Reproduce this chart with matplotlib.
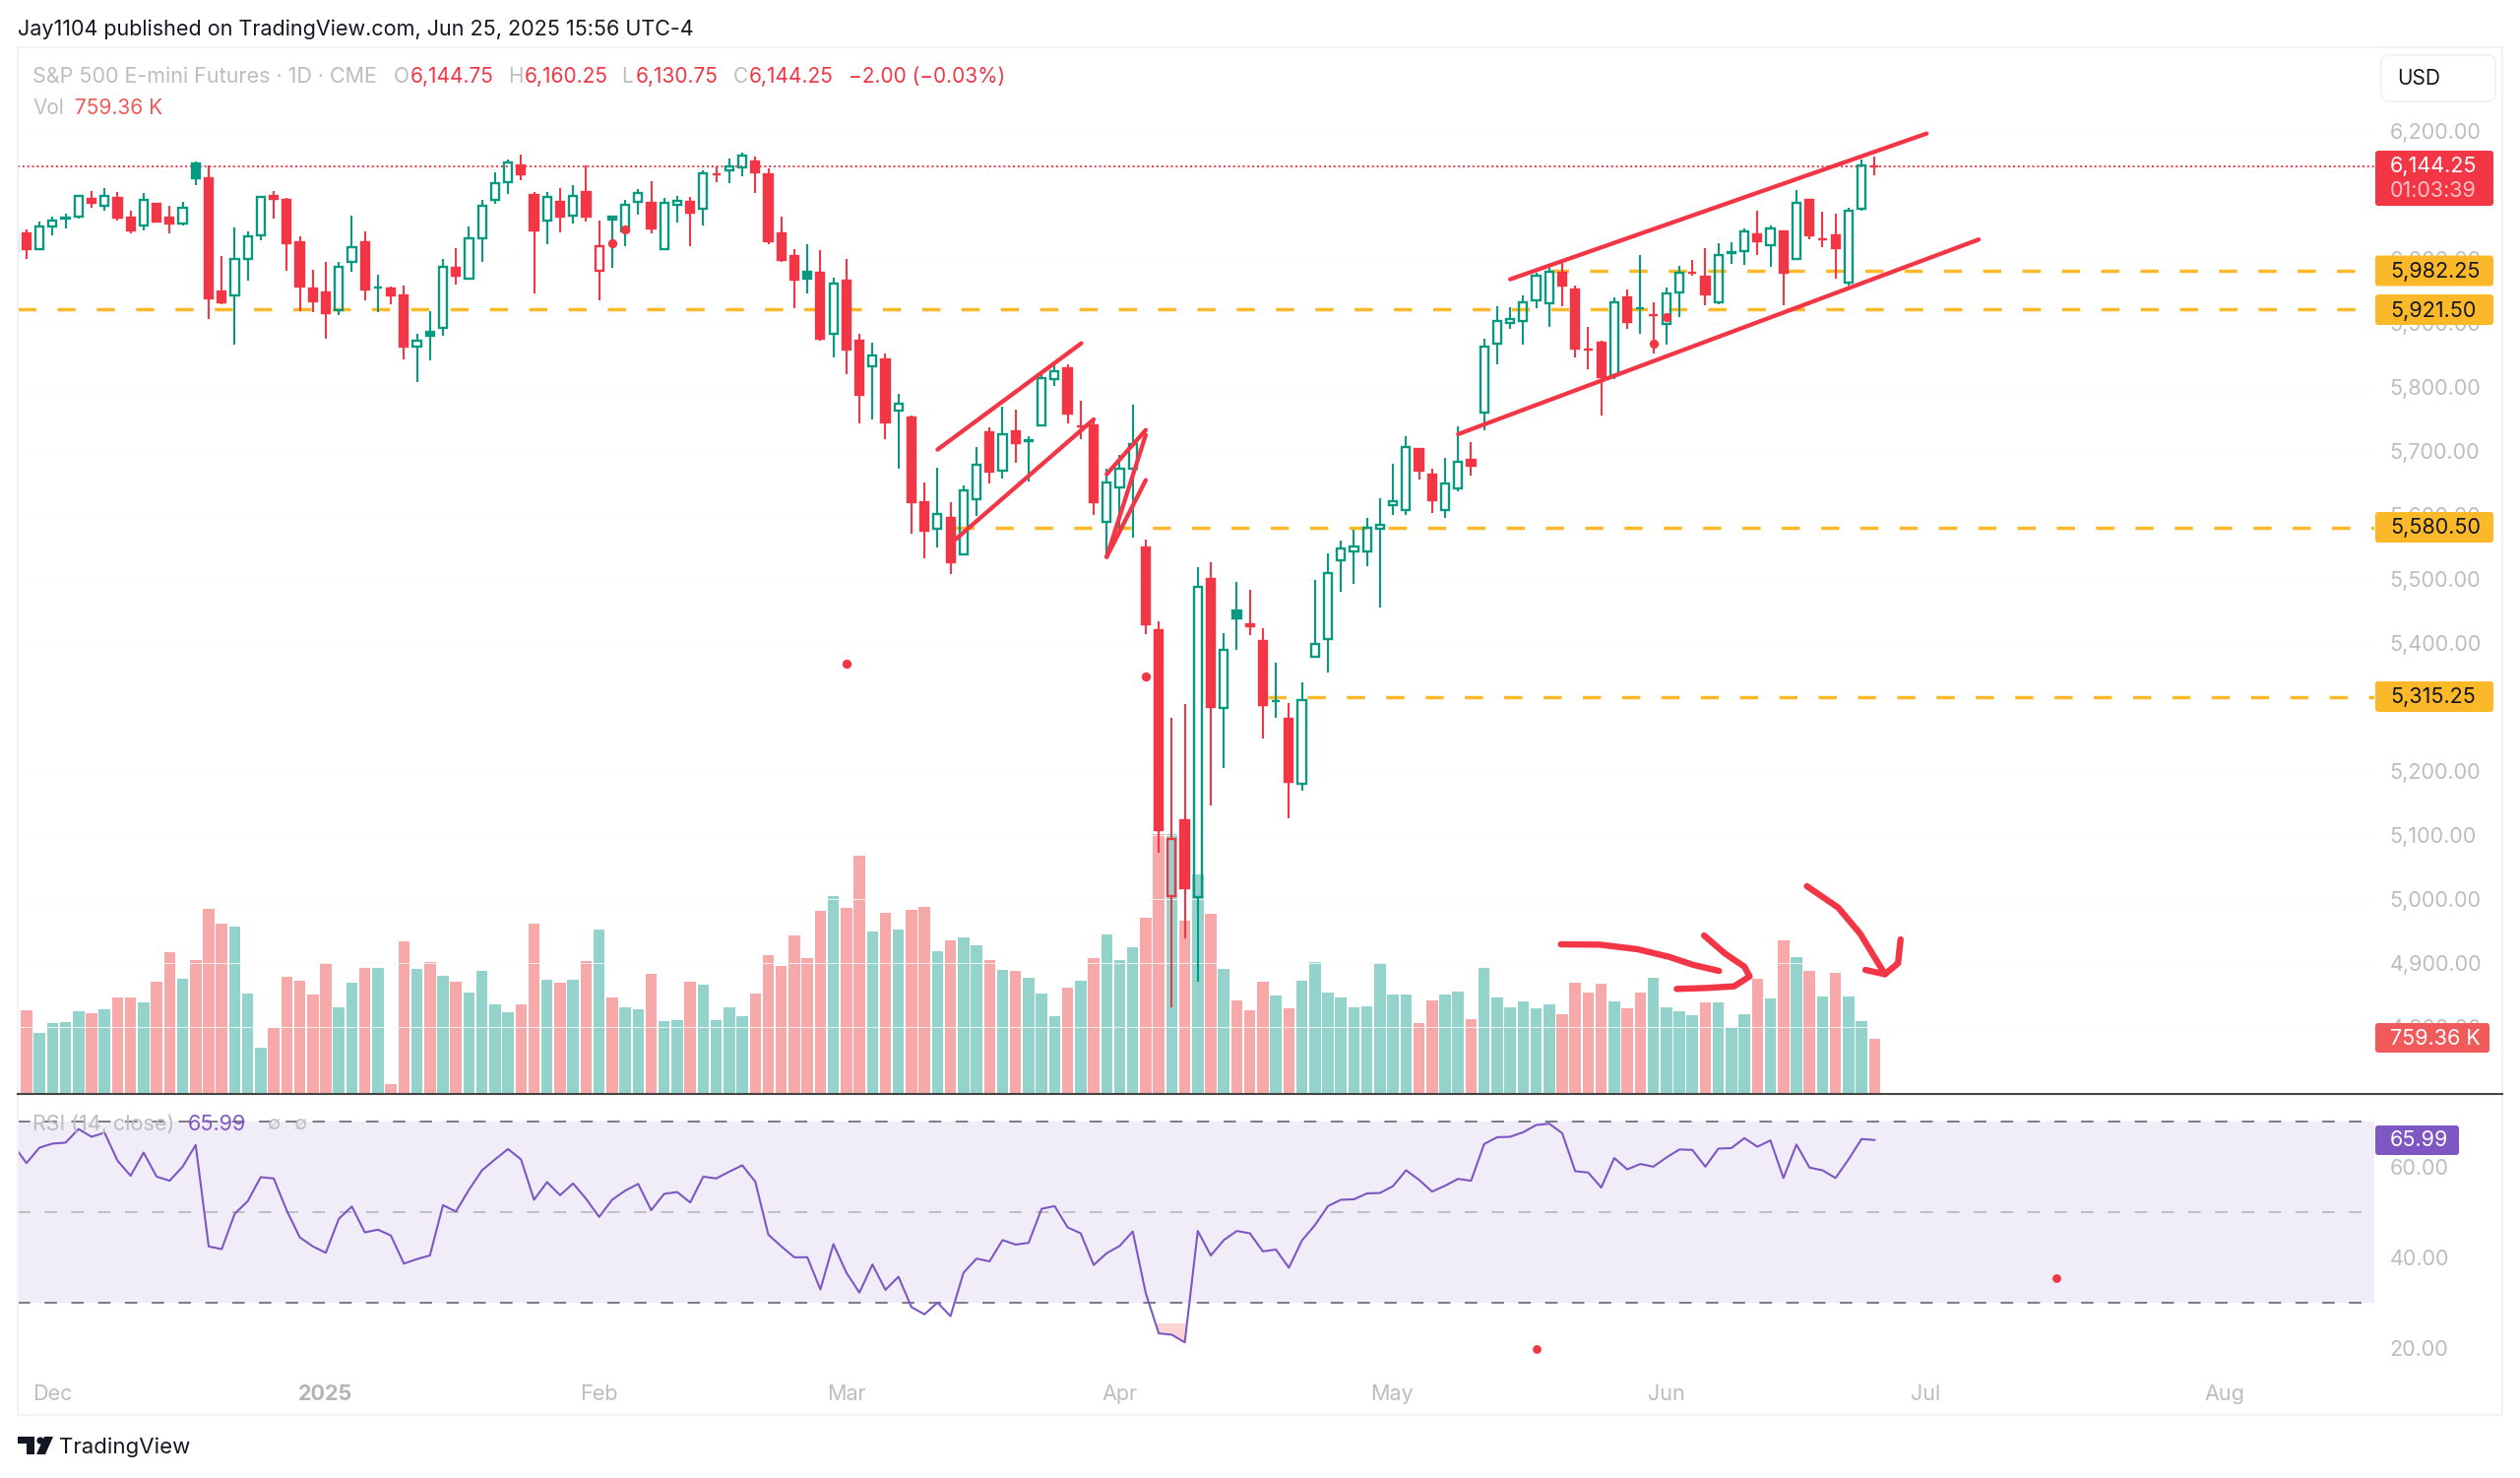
import matplotlib
matplotlib.use("Agg")
import matplotlib.pyplot as plt
from matplotlib.colors import LinearSegmentedColormap
from matplotlib.patches import FancyBboxPatch, Rectangle, Polygon, Circle

plt.rcParams['font.family'] = ['Inter', 'DejaVu Sans']

# daily candles
opens = [6012, 6041, 6015, 6051, 6064, 6066, 6094, 6084, 6096, 6065,
         6053, 6087, 6065, 6056, 6150, 6126, 5949, 5944, 6001, 6037,
         6099, 6092, 6027, 5954, 5948, 5921, 5995, 6027, 5956, 5954,
         5943, 5863, 5887, 5892, 5987, 5969, 6032, 6093, 6120, 6147,
         6101, 6060, 6090, 6068, 6105, 5982, 6067, 6043, 6090, 6088,
         6015, 6085, 6090, 6079, 6132, 6138, 6143, 6153, 6132, 6040,
         6005, 5981, 5979, 5883, 5966, 5873, 5832, 5844, 5764, 5752,
         5621, 5579, 5595, 5539, 5625, 5730, 5670, 5731, 5715, 5740,
         5812, 5830, 5738, 5741, 5590, 5644, 5672, 5549, 5421, 5005,
         5124, 5004, 5501, 5298, 5451, 5430, 5403, 5309, 5282, 5180,
         5378, 5407, 5529, 5543, 5543, 5578, 5616, 5608, 5703, 5664,
         5608, 5642, 5686, 5761, 5868, 5901, 5904, 5935, 5931, 5979,
         5952, 5859, 5869, 5819, 5940, 5924, 5913, 5898, 5948, 5978,
         5973, 5932, 6009, 6013, 6038, 6022, 6044, 6000, 6093, 6031,
         6037, 5964, 6078, 6144.75]
closes = [6037, 6015, 6051, 6060, 6065, 6098, 6088, 6098, 6065, 6045,
          6093, 6059, 6055, 6080, 6126, 5939, 5932, 6000, 6035, 6097,
          6094, 6025, 5957, 5934, 5916, 5988, 6019, 5953, 5956, 5944,
          5864, 5873, 5881, 5988, 5974, 6032, 6083, 6119, 6151, 6133,
          6045, 6097, 6066, 6098, 6066, 6021, 6062, 6085, 6104, 6048,
          6088, 6091, 6072, 6134, 6132, 6145, 6162, 6136, 6028, 5999,
          5968, 5970, 5875, 5962, 5859, 5788, 5850, 5745, 5774, 5620,
          5575, 5602, 5526, 5639, 5679, 5668, 5727, 5712, 5717, 5814,
          5825, 5759, 5738, 5621, 5651, 5672, 5711, 5430, 5108, 5094,
          5017, 5488, 5300, 5390, 5439, 5427, 5304, 5309, 5183, 5311,
          5399, 5509, 5548, 5551, 5581, 5585, 5622, 5707, 5670, 5624,
          5650, 5683, 5677, 5864, 5903, 5907, 5932, 5974, 5981, 5959,
          5861, 5858, 5816, 5932, 5902, 5923, 5913, 5946, 5979, 5978,
          5945, 6006, 6011, 6043, 6028, 6048, 5979, 6088, 6037, 6031,
          6017, 6075, 6146.25, 6144.25]
highs = [6037, 6047, 6059, 6067, 6071, 6101, 6107, 6111, 6105, 6075,
         6103, 6087, 6084, 6090, 6153, 6147, 6005, 6050, 6043, 6098,
         6107, 6095, 6036, 5983, 5995, 5996, 6068, 6044, 5975, 5957,
         5958, 5883, 5918, 6001, 6017, 6051, 6093, 6135, 6155, 6163,
         6105, 6105, 6111, 6115, 6147, 6061, 6067, 6092, 6109, 6122,
         6096, 6098, 6097, 6138, 6145, 6157, 6167, 6160, 6142, 6066,
         6015, 6023, 6014, 5971, 6000, 5883, 5869, 5853, 5790, 5756,
         5651, 5674, 5621, 5647, 5706, 5737, 5770, 5765, 5723, 5825,
         5837, 5836, 5778, 5751, 5672, 5694, 5773, 5562, 5434, 5284,
         5305, 5518, 5527, 5416, 5496, 5483, 5423, 5370, 5306, 5338,
         5499, 5541, 5561, 5577, 5596, 5626, 5681, 5724, 5705, 5673,
         5689, 5739, 5714, 5876, 5926, 5925, 5944, 5978, 5987, 5995,
         5958, 5894, 5872, 5941, 5953, 6007, 5932, 5955, 5990, 5999,
         6017, 6025, 6027, 6048, 6075, 6052, 6044, 6108, 6093, 6074,
         6071, 6081, 6156, 6160.25]
lows = [6012, 6001, 6015, 6037, 6048, 6063, 6081, 6076, 6061, 6040,
        6045, 6057, 6041, 6052, 6115, 5906, 5930, 5866, 5966, 6030,
        6063, 5982, 5919, 5917, 5875, 5912, 5981, 5935, 5917, 5930,
        5844, 5808, 5842, 5880, 5961, 5969, 5995, 6087, 6102, 6123,
        5947, 6024, 6042, 6056, 6058, 5935, 5986, 6020, 6070, 6041,
        6015, 6057, 6021, 6053, 6121, 6119, 6130, 6103, 6024, 5995,
        5924, 5946, 5873, 5847, 5821, 5743, 5750, 5719, 5672, 5571,
        5533, 5550, 5508, 5539, 5598, 5650, 5657, 5682, 5652, 5740,
        5802, 5743, 5719, 5601, 5535, 5579, 5565, 5414, 5073, 4831,
        4939, 4871, 5147, 5205, 5390, 5412, 5251, 5284, 5126, 5170,
        5378, 5354, 5480, 5492, 5521, 5455, 5601, 5601, 5656, 5604,
        5596, 5637, 5662, 5733, 5835, 5891, 5867, 5923, 5894, 5927,
        5847, 5828, 5756, 5813, 5891, 5884, 5853, 5867, 5909, 5974,
        5928, 5929, 5992, 5991, 6006, 5988, 5928, 6000, 6031, 6019,
        5970, 5959, 6075, 6130.75]

# volume in thousands
volumes = [1325, 1155, 842, 980, 994, 1141, 1118, 1168, 1343, 1343,
           1270, 1555, 1978, 1601, 1868, 2581, 2378, 2332, 1394, 635,
           911, 1633, 1573, 1385, 1822, 1205, 1546, 1757, 1757, 120,
           2121, 1739, 1831, 1642, 1555, 1408, 1716, 1242, 1132, 1242,
           2369, 1582, 1546, 1592, 1854, 2291, 1334, 1205, 1168, 1670,
           1003, 1021, 1555, 1518, 1021, 1196, 1081, 1394, 1932, 1785,
           2208, 1895, 2558, 2769, 2594, 3326, 2268, 2530, 2291, 2567,
           2604, 1992, 2144, 2180, 2070, 1858, 1730, 1716, 1619, 1394,
           1072, 1481, 1573, 1895, 2222, 1858, 2047, 2456, 3634, 3634,
           2420, 3073, 2507, 1743, 1297, 1159, 1559, 1371, 1187, 1573,
           1831, 1408, 1334, 1196, 1219, 1822, 1385, 1385, 984, 1297,
           1385, 1421, 1035, 1757, 1334, 1205, 1283, 1187, 1247, 1104,
           1550, 1408, 1532, 1283, 1187, 1408, 1619, 1196, 1145, 1095,
           1270, 1270, 911, 1104, 1605, 1320, 2144, 1904, 1716, 1352,
           1684, 1352, 1007, 759.36]

rsi_values = [64.8, 60.9, 64.3, 65.2, 65.4, 68.4, 66.7, 67.6, 61.4, 58.1,
              63.2, 57.9, 57.0, 60.1, 64.9, 42.5, 41.9, 49.7, 52.5, 57.8,
              57.5, 50.4, 44.5, 42.5, 41.1, 48.6, 51.3, 45.6, 46.2, 44.9,
              38.7, 39.7, 40.5, 51.6, 50.2, 55.0, 59.3, 61.7, 64.0, 61.7,
              52.8, 56.7, 53.8, 56.4, 53.0, 49.0, 52.8, 54.8, 56.3, 50.5,
              54.1, 54.5, 52.2, 57.9, 57.5, 59.0, 60.4, 56.8, 45.1, 42.5,
              40.1, 40.1, 33.0, 43.0, 36.7, 32.3, 38.5, 32.9, 35.8, 29.1,
              27.5, 30.1, 27.1, 36.7, 39.8, 39.2, 43.9, 42.9, 43.3, 50.8,
              51.4, 46.7, 45.4, 38.4, 41.0, 42.6, 45.8, 32.2, 23.3, 23.0,
              21.3, 45.9, 40.5, 43.9, 45.9, 45.4, 41.4, 41.8, 37.8, 43.8,
              47.2, 51.4, 52.8, 52.9, 54.2, 54.3, 55.8, 59.3, 57.2, 54.6,
              55.9, 57.4, 57.0, 65.1, 66.6, 66.7, 67.7, 69.3, 69.6, 67.5,
              59.1, 58.8, 55.5, 62.0, 59.5, 60.7, 60.1, 62.1, 63.9, 63.8,
              60.1, 64.1, 64.2, 66.4, 64.5, 65.9, 57.6, 65.0, 59.9, 59.3,
              57.6, 61.7, 66.2, 65.99]

# horizontal levels: (price, first bar)
level_prices = [5982.25, 5921.50, 5580.50, 5315.25]
level_starts = [118.1, 0.3, 72.4, 96.4]

# drawn trend lines: bar, price pairs
trend_lines = [
    ([115.0, 147.0], [5968.5, 6196.2]),
    ([111.0, 151.0], [5726.5, 6030.6]),
    ([71.0, 82.05], [5702.4, 5868.5]),
    ([72.4, 83.0], [5562.4, 5749.6]),
    ([84.0, 87.0], [5664, 5733]),
    ([84.0, 87.0], [5534.7, 5725.4]),
    ([84.0, 87.0], [5534.7, 5654.7]),
]
# freehand arrows over the volume bars
arrow_strokes = [
    ([118.9, 121.9, 124.8, 127.2, 129.1, 131.05], [4929.5, 4929, 4921.8, 4910, 4897.2, 4888]),
    ([129.9, 131.5, 133, 133.4, 132.2, 130.1, 127.8], [4943.4, 4915.2, 4894.6, 4879.3, 4863.9, 4861.3, 4859.8]),
    ([137.8, 140.2, 141.9, 142.9, 143.8], [5020.3, 4987, 4946, 4912.6, 4882.8]),
    ([142.3, 143.8, 144.8, 145], [4889.5, 4882.8, 4899.8, 4937.2]),
]
dot_bars = [46, 47, 64, 87, 126, 127]
dot_prices = [6025, 6047, 5368, 5348, 5868, 5909]
rsi_dot_bars = [117, 157]
rsi_dot_values = [19.9, 35.5]

price_ticks = [6200, 6000, 5900, 5800, 5700, 5600, 5500, 5400,
               5200, 5100, 5000, 4900, 4800]
rsi_ticks = [60, 40, 20]
month_bars = [3, 24, 45, 64, 85, 105.9, 127, 146.9, 169.9]
month_labels = ["Dec", "2025", "Feb", "Mar", "Apr", "May", "Jun", "Jul", "Aug"]

GREEN = "#089981"
RED = "#F23645"
TEAL_VOL = "#94D3CC"
RED_VOL = "#F7A9A9"
ORANGE = "#FBB92A"
PURPLE = "#7E57C2"
GRAY = "#BDBDBD"
W, H = 2560, 1501
PANE_LEFT, PANE_RIGHT = 18, 2412


def pane_axes(fig, top, bottom):
    ax = fig.add_axes([PANE_LEFT / W, 1 - bottom / H, (PANE_RIGHT - PANE_LEFT) / W, (bottom - top) / H])
    for spine in ax.spines.values():
        spine.set_visible(False)
    ax.set_xlim(0.327, 181.4)
    return ax


def draw_candles(ax):
    for i in range(len(opens)):
        prev = closes[i - 1] if i > 0 else closes[i]
        color = GREEN if closes[i] >= prev else RED
        hollow = closes[i] > opens[i]
        top = max(opens[i], closes[i])
        bottom = min(opens[i], closes[i])
        ax.vlines(i, top, highs[i], color=color, lw=1.5, zorder=3)
        ax.vlines(i, lows[i], bottom, color=color, lw=1.5, zorder=3)
        ax.bar(i, top - bottom, bottom=bottom, width=0.62, zorder=4, linewidth=1.7,
               facecolor="none" if hollow else color, edgecolor=color)


def draw_price_pane(ax):
    ax.set_ylim(4695.7, 6331)
    ax.patch.set_visible(False)
    ax.set_zorder(2)
    ax.yaxis.tick_right()
    ax.set_yticks(price_ticks)
    ax.set_yticklabels([f"{p:,.2f}" for p in price_ticks], fontsize=15.5, color=GRAY)
    ax.tick_params(axis="y", length=0, pad=11)
    ax.set_xticks([])
    ax.grid(axis="y", color="#F9F9F9", lw=0.6)

    ax.axhline(closes[-1], color=RED, lw=1.4, ls=(0, (1, 1.5)), zorder=2)
    for price, start in zip(level_prices, level_starts):
        ax.plot([start, 181.4], [price, price], color=ORANGE, lw=2.5, ls=(0, (5.3, 6.2)),
                dash_capstyle="butt", zorder=2)
    draw_candles(ax)
    for xs, ys in trend_lines:
        ax.plot(xs, ys, color=RED, lw=3.1, solid_capstyle="round", zorder=5)
    for xs, ys in arrow_strokes:
        ax.plot(xs, ys, color=RED, lw=4.6, solid_capstyle="round", solid_joinstyle="round", zorder=5)
    ax.scatter(dot_bars, dot_prices, s=45, color=RED, zorder=6, linewidths=0)


def draw_volume_pane(ax):
    ax.set_ylim(0, 14669)
    ax.set_xticks([])
    ax.set_yticks([])
    ax.set_zorder(1)
    colors = [TEAL_VOL if c >= o else RED_VOL for o, c in zip(opens, closes)]
    ax.bar(range(len(volumes)), volumes, width=0.87, color=colors, linewidth=0)


def draw_rsi_pane(ax):
    ax.axhspan(30, 70, color="#F0ECF8", lw=0, zorder=0)
    ax.axhline(70, color="#787B86", lw=1.4, ls=(0, (6.5, 7.5)), dash_capstyle="butt")
    ax.axhline(50, color="#BDBDC4", lw=1.4, ls=(0, (6.5, 7.5)), dash_capstyle="butt")
    ax.axhline(30, color="#787B86", lw=1.4, ls=(0, (6.5, 7.5)), dash_capstyle="butt")
    bars = list(range(len(rsi_values)))

    # oversold area fades out towards the 30 line
    below = ax.fill_between(bars, rsi_values, 30, where=[r < 30 for r in rsi_values], interpolate=True,
                            facecolor="none", lw=0)
    fade = LinearSegmentedColormap.from_list("fade", ["#FFFFFF", "#FBD3D3"])
    image = ax.imshow([[0.0], [1.0]], extent=(80, 95, 21, 30), origin="upper", aspect="auto",
                      cmap=fade, zorder=1)
    image.set_clip_path(below.get_paths()[-1], transform=ax.transData)

    ax.set_xlim(0.327, 181.4)
    ax.set_ylim(15.5, 76.15)
    ax.plot(bars, rsi_values, color=PURPLE, lw=1.5, zorder=3)
    ax.scatter(rsi_dot_bars, rsi_dot_values, s=40, color=RED, zorder=4, linewidths=0)
    ax.yaxis.tick_right()
    ax.set_yticks(rsi_ticks)
    ax.set_yticklabels([f"{v:.2f}" for v in rsi_ticks], fontsize=15.5, color=GRAY)
    ax.tick_params(axis="y", length=0, pad=11)
    ax.set_xticks(month_bars)
    ax.set_xticklabels(month_labels, fontsize=15.5, color=GRAY)
    ax.tick_params(axis="x", length=0, pad=11.5)
    year = ax.get_xticklabels()[1]
    year.set_fontweight("bold")
    year.set_color("#B4B4B4")


def tag(over, x0, x1, y0, y1, color):
    over.add_patch(FancyBboxPatch((x0, y0), x1 - x0, y1 - y0, boxstyle="round,pad=0,rounding_size=3",
                                  facecolor=color, edgecolor="none", zorder=10))


def draw_overlay(over):
    over.set_xlim(0, W)
    over.set_ylim(H, 0)
    over.axis("off")

    # outer frame and pane separator
    over.add_patch(Rectangle((18, 48), 2524, 1389, fill=False, edgecolor="#F2F3F6", lw=1.5, zorder=1))
    over.plot([18, 2542], [1111, 1111], color="#444444", lw=1.5, zorder=2)

    tag_x = 2413
    tag(over, tag_x, 2533, 153, 209, RED)
    over.text(2428, 169, "6,144.25", color="white", fontsize=15.5, va="center", zorder=11)
    over.text(2428, 194, "01:03:39", color="#FFFFFF", alpha=0.7, fontsize=15.5, va="center", zorder=11)
    for price, y in zip(level_prices, [275, 314.5, 535.5, 707.5]):
        tag(over, tag_x, 2533, y - 15.5, y + 15.5, ORANGE)
        over.text(2428, y + 1, f"{price:,.2f}", color="#131722", fontsize=15.5, va="center", zorder=11)
    tag(over, tag_x, 2529, 1039, 1069, "#F05A5A")
    over.text(2428, 1055, "759.36 K", color="white", fontsize=15.5, va="center", zorder=11)
    tag(over, tag_x, 2498, 1143, 1173, PURPLE)
    over.text(2428, 1158, "65.99", color="white", fontsize=15.5, va="center", zorder=11)

    over.add_patch(FancyBboxPatch((2419, 56), 116, 47, boxstyle="round,pad=0,rounding_size=8",
                                  facecolor="white", edgecolor="#F0F1F4", lw=1.2, zorder=10))
    over.text(2435, 80, "USD", color="#131722", fontsize=15, va="center", zorder=11)

    # header and legends
    over.text(18, 30, "Jay1104 published on TradingView.com, Jun 25, 2025 15:56 UTC-4",
              color="#131722", fontsize=15.5, va="center")
    over.text(33, 78, "S&P 500 E-mini Futures · 1D · CME", color=GRAY, fontsize=15.5, va="center")
    for label, x in zip("OHLC", [400, 516, 631, 745]):
        over.text(x, 78, label, color=GRAY, fontsize=15, va="center")
    ohlc_text = ["6,144.75", "6,160.25", "6,130.75", "6,144.25", "−2.00 (−0.03%)"]
    for text, x in zip(ohlc_text, [417, 533, 646, 761, 862]):
        over.text(x, 78, text, color=RED, fontsize=15, va="center")
    over.text(33, 110, "Vol", color=GRAY, fontsize=15, va="center")
    over.text(76, 110, "759.36 K", color="#F05A5A", fontsize=15, va="center")
    over.text(33, 1142, "RSI (14, close)", color=GRAY, fontsize=15.5, va="center")
    over.text(191, 1142, "65.99", color=PURPLE, fontsize=15.5, va="center")
    over.text(271, 1142, "∅", color=GRAY, fontsize=14, va="center")
    over.text(298, 1142, "∅", color=GRAY, fontsize=14, va="center")

    # footer logo
    over.add_patch(Polygon([(18, 1459), (35, 1459), (35, 1477), (27, 1477), (27, 1466), (18, 1466)],
                           facecolor="#131722", edgecolor="none"))
    over.add_patch(Circle((41, 1463), 3.6, facecolor="#131722", edgecolor="none"))
    over.add_patch(Polygon([(45, 1459), (54, 1459), (46, 1477), (37, 1477)],
                           facecolor="#131722", edgecolor="none"))
    over.text(60, 1470, "TradingView", color="#131722", fontsize=16, va="center")


def main():
    fig = plt.figure(figsize=(W / 100, H / 100), dpi=100, facecolor="white")
    ax_volume = pane_axes(fig, 48, 1110)
    ax_price = pane_axes(fig, 48, 1111)
    ax_rsi = pane_axes(fig, 1111, 1390)
    draw_volume_pane(ax_volume)
    draw_price_pane(ax_price)
    draw_rsi_pane(ax_rsi)

    over = fig.add_axes([0, 0, 1, 1], zorder=5)
    over.patch.set_visible(False)
    draw_overlay(over)

    fig.savefig("out.png", dpi=100)


if __name__ == "__main__":
    main()
